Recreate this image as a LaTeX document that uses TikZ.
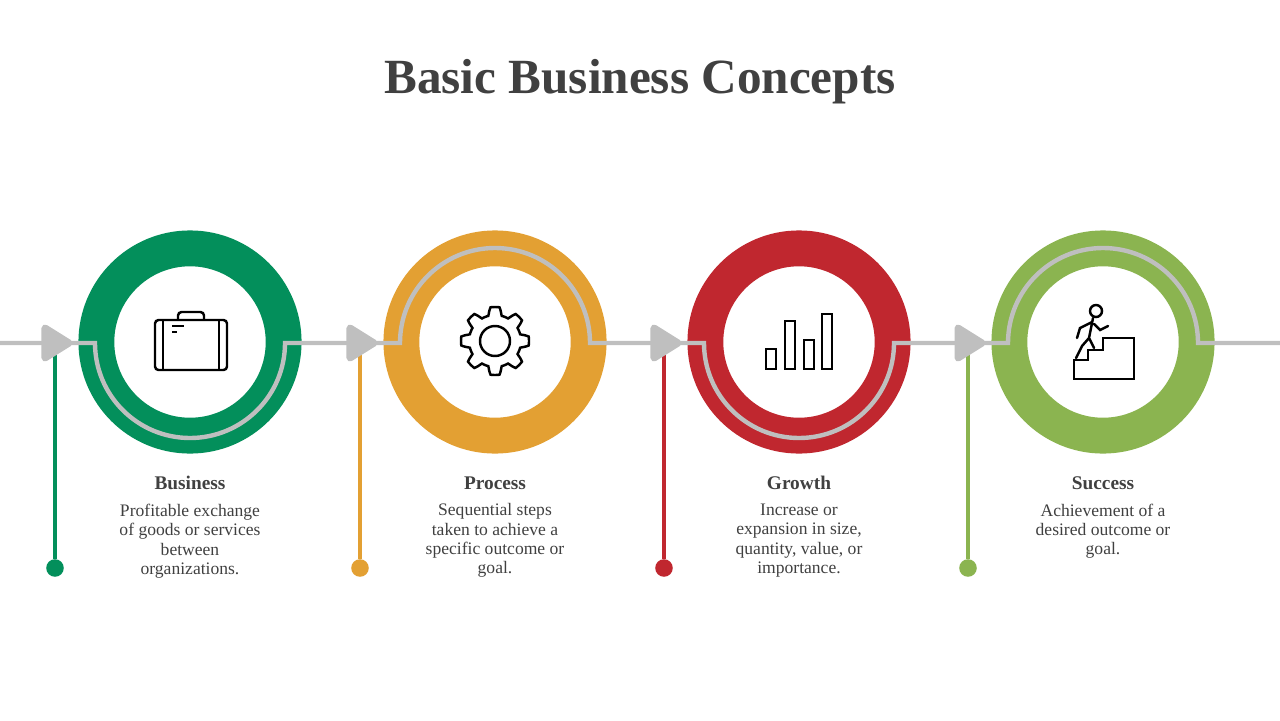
\documentclass[tikz,border=0pt]{standalone}
\usepackage{fontspec}
\setmainfont{Liberation Serif}
\usetikzlibrary{positioning,calc}
\definecolor{cgreen}{HTML}{038F5B}
\definecolor{corange}{HTML}{E3A033}
\definecolor{cred}{HTML}{C0272F}
\definecolor{clime}{HTML}{8BB450}
\definecolor{cline}{HTML}{BFBFBF}
\definecolor{ctext}{HTML}{404040}
\tikzset{
	ring/.style = {circle, minimum size=106.6pt, line width=20.4pt, fill=white, inner sep=0pt},
	track/.style = {draw=cline, line width=2.5pt},
	tip/.style = {fill=cline, draw=cline, line width=4pt, line join=round},
	head/.style = {font=\bfseries\fontsize{11}{13}\selectfont, text=ctext},
	desc/.style = {font=\fontsize{10}{11}\selectfont, text=ctext, align=center, anchor=north},
	icon/.style = {draw=black, line width=1.4pt},
}
\begin{document}
\begin{tikzpicture}[x=0.02cm,y=-0.02cm]
	\useasboundingbox (0,0) rectangle (1280,720);
	% title
	\node[font=\bfseries\fontsize{28}{30}\selectfont, text=ctext] (title) at (640,82) {Basic Business Concepts};

	% rings
	\node[ring, draw=cgreen] (Business) at (190,342) {};
	\node[ring, draw=corange] (Process) at (495,342) {};
	\node[ring, draw=cred] (Growth) at (799,342) {};
	\node[ring, draw=clime] (Success) at (1103,342) {};

	% track
	\coordinate (Start) at (0,343);
	\coordinate (End) at (1280,343);
	\draw[track] (Start) -- ($(Business)+(-95,1)$) arc (180:0:95)
		-- ($(Process)+(-95,1)$) arc (180:360:95)
		-- ($(Growth)+(-95,1)$) arc (180:0:95)
		-- ($(Success)+(-95,1)$) arc (180:360:95) -- (End);

	% stems and arrows
	\foreach \x/\c/\n in {55/cgreen/A, 360/corange/B, 664/cred/C, 968/clime/D}{
		\coordinate (Top\n) at (\x,350);
		\node[circle, fill=\c, minimum size=10pt, inner sep=0pt] (Dot\n) at (\x,568) {};
		\draw[\c, line width=2.5pt] (Top\n) -- (Dot\n);
		\draw[tip] (\x-10,328) -- (\x+14,343) -- (\x-10,358) -- cycle;
	}

	% labels
	\foreach \p/\t/\d in {Business/Business/{Profitable exchange\\of goods or services\\between\\organizations.},
		Process/Process/{Sequential steps\\taken to achieve a\\specific outcome or\\goal.},
		Growth/Growth/{Increase or\\expansion in size,\\quantity, value, or\\importance.},
		Success/Success/{Achievement of a\\desired outcome or\\goal.}}{
		\node[head] (\p-head) at ($(\p)+(0,141)$) {\t};
		\node[desc, below=1pt of \p-head] (\p-desc) {\d};
	}

	% icons
	\draw[icon, rounded corners=2pt] (155,320) rectangle (227,370);
	\draw[icon, rounded corners=2pt] (178,320) -- (178,312) -- (204,312) -- (204,320);
	\draw[icon] (163,320) -- (163,370) (219,320) -- (219,370) (172,326) -- (184,326) (172,332) -- (177,332);
	\draw[icon] (495,341) circle (15);
	\draw[icon] plot[domain=0:360, samples=97, smooth] ({495+(30+4*sign(cos(8*\x)))*cos(\x)}, {341+(30+4*sign(cos(8*\x)))*sin(\x)});
	\draw[icon] (766,349) rectangle (776,369) (785,321) rectangle (795,369) (804,340) rectangle (814,369) (822,314) rectangle (832,369);
	\draw[icon] (1074,379) -- (1074,360) -- (1088,360) -- (1088,350) -- (1103,350) -- (1103,338) -- (1134,338) -- (1134,379) -- cycle;
	\draw[icon] (1096,311) circle (6);
	\draw[icon, line cap=round] (1093,318) -- (1089,338) -- (1094,348) (1089,338) -- (1082,346) -- (1076,358)
		(1092,322) -- (1080,328) -- (1077,338) (1094,324) -- (1100,330) -- (1108,326);
\end{tikzpicture}
\end{document}
